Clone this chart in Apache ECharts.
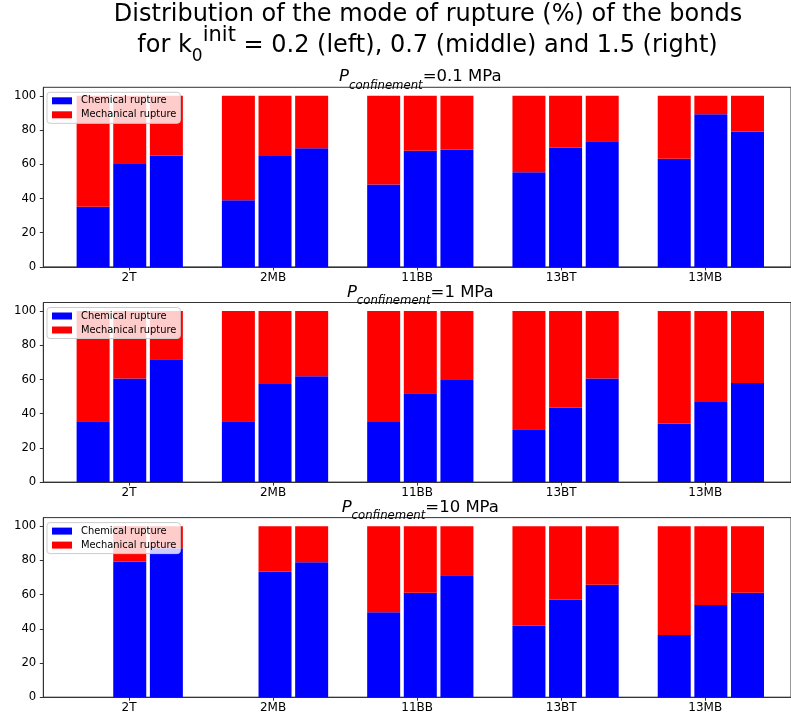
<!DOCTYPE html>
<html><head><meta charset="utf-8">
<script src="https://cdn.jsdelivr.net/npm/echarts@6/dist/echarts.min.js"></script>
<style>html,body{margin:0;padding:0;background:#fff}#c{width:791px;height:722px}</style>
</head><body><div id="c"></div>
<script>
const categories = ['2T', '2MB', '11BB', '13BT', '13MB'];
const panelPressures = ['0.1 MPa', '1 MPa', '10 MPa'];
const yTicks = [0, 20, 40, 60, 80, 100];
const seriesNames = ['Chemical rupture', 'Mechanical rupture'];

// P = 0.1 MPa : chemical / mechanical, for k0 = 0.2 (left), 0.7 (middle), 1.5 (right)
const chemP01Left  = [35.1, 38.9, 48.2, 55.4, 63.2];
const mechP01Left  = [64.9, 61.1, 51.8, 44.6, 36.8];
const chemP01Mid   = [60.1, 64.8, 67.9, 69.6, 89.2];
const mechP01Mid   = [39.9, 35.2, 32.1, 30.4, 10.8];
const chemP01Right = [65.2, 69.3, 68.5, 73.5, 79.2];
const mechP01Right = [34.8, 30.7, 31.5, 26.5, 20.8];

// P = 1 MPa
const chemP1Left  = [35.6, 35.6, 35.2, 30.9, 34.3];
const mechP1Left  = [64.4, 64.4, 64.8, 69.1, 65.7];
const chemP1Mid   = [60.5, 57.4, 52.0, 43.4, 46.9];
const mechP1Mid   = [39.5, 42.6, 48.0, 56.6, 53.1];
const chemP1Right = [71.8, 61.9, 59.7, 60.5, 58.0];
const mechP1Right = [28.2, 38.1, 40.3, 39.5, 42.0];

// P = 10 MPa (left bar missing for 2T and 2MB)
const chemP10Left  = [null, null, 49.7, 41.7, 36.4];
const mechP10Left  = [null, null, 50.3, 58.3, 63.6];
const chemP10Mid   = [79.3, 73.5, 61.0, 56.9, 53.9];
const mechP10Mid   = [20.7, 26.5, 39.0, 43.1, 46.1];
const chemP10Right = [87.1, 78.9, 71.3, 65.7, 61.0];
const mechP10Right = [12.9, 21.1, 28.7, 34.3, 39.0];

const panels = [
  [[chemP01Left, mechP01Left], [chemP01Mid, mechP01Mid], [chemP01Right, mechP01Right]],
  [[chemP1Left, mechP1Left], [chemP1Mid, mechP1Mid], [chemP1Right, mechP1Right]],
  [[chemP10Left, mechP10Left], [chemP10Mid, mechP10Mid], [chemP10Right, mechP10Right]]
];

const FONT = 'DejaVu Sans';
const gridTops = [87.3, 302.5, 517.6];
const gridH = 179.6;
const colors = ['#0000ff', '#ff0000'];
const catIdx = categories.map((c, i) => i);

// frame axis: value scale from -0.595 to 4.595 over 754 px => 145.3 px per category
const frameLeft = 43.3, frameWidth = 754, xMin = -0.595, xMax = 4.595;
const unit = frameWidth / (xMax - xMin);
const barsLeft = frameLeft + (-0.5 - xMin) * unit;
const barsWidth = categories.length * unit;

const grid = [], xAxis = [], yAxis = [], series = [], legend = [], graphic = [];

gridTops.forEach((top, p) => {
  // visible frame grid (index 2p) and bar grid (index 2p+1)
  grid.push({left: frameLeft, top: top, width: frameWidth, height: gridH, show: true,
    borderColor: '#333', borderWidth: 1, backgroundColor: 'transparent'});
  grid.push({left: barsLeft, top: top, width: barsWidth, height: gridH, show: false});
  xAxis.push({gridIndex: 2 * p, type: 'value', min: xMin, max: xMax,
    splitLine: {show: false},
    axisLine: {show: true, onZero: false, lineStyle: {color: '#333', width: 1}},
    axisTick: {show: true, customValues: catIdx, length: 3.5, lineStyle: {color: '#333'}},
    axisLabel: {customValues: catIdx, formatter: v => categories[Math.round(v)],
      fontSize: 12, fontFamily: FONT, color: '#000', margin: 5}});
  yAxis.push({gridIndex: 2 * p, type: 'value', min: 0, max: 105,
    splitLine: {show: false},
    axisLine: {show: true, onZero: false, lineStyle: {color: '#333', width: 1}},
    axisTick: {show: true, customValues: yTicks, length: 3.5, lineStyle: {color: '#333'}},
    axisLabel: {customValues: yTicks, fontSize: 11.7, fontFamily: FONT, color: '#000', margin: 7}});
  xAxis.push({gridIndex: 2 * p + 1, type: 'category', data: categories, show: false,
    boundaryGap: true});
  yAxis.push({gridIndex: 2 * p + 1, type: 'value', min: 0, max: 105, show: false,
    splitLine: {show: false}});
  ['L', 'M', 'R'].forEach((pos, k) => {
    panels[p][k].forEach((arr, s) => {
      series.push({type: 'bar', name: seriesNames[s], xAxisIndex: 2 * p + 1, yAxisIndex: 2 * p + 1,
        stack: 'p' + p + pos, barWidth: 33, barGap: '11%',
        itemStyle: {color: colors[s]},
        emphasis: {disabled: true},
        data: arr.map(v => v == null ? '-' : v)});
    });
  });
  legend.push({left: 47, top: top + 5, orient: 'vertical', icon: 'rect',
    itemWidth: 20, itemHeight: 7, itemGap: 3, padding: [3, 4, 3, 5],
    backgroundColor: 'rgba(255,255,255,0.8)', borderColor: '#cccccc', borderWidth: 1, borderRadius: 3,
    selectedMode: false,
    textStyle: {fontSize: 9.9, fontFamily: FONT, color: '#000', lineHeight: 11, padding: [0, 0, 0, 4]},
    data: seriesNames});
  graphic.push({type: 'text', x: 420.3, y: top - 10.2, z: 10,
    style: {text: '{it|P}{sub|confinement}{n|=' + panelPressures[p] + '}',
      align: 'center', verticalAlign: 'middle',
      rich: {
        it: {fontSize: 16.5, fontFamily: FONT, fontStyle: 'italic', lineHeight: 30, fill: '#000'},
        sub: {fontSize: 11.7, fontFamily: FONT, fontStyle: 'italic', lineHeight: 23, verticalAlign: 'bottom', fill: '#000'},
        n: {fontSize: 16.5, fontFamily: FONT, lineHeight: 30, fill: '#000'}
      }}});
});

graphic.push({type: 'text', x: 428, y: 15, z: 10,
  style: {text: 'Distribution of the mode of rupture (%) of the bonds', fontSize: 24, fontFamily: FONT,
    fill: '#000', align: 'center', verticalAlign: 'middle'}});
graphic.push({type: 'text', x: 427.5, y: 45.5, z: 10,
  style: {text: '{a|for k}{sub|0}{sup|init}{a| = 0.2 (left), 0.7 (middle) and 1.5 (right)}',
    align: 'center', verticalAlign: 'middle',
    rich: {
      a: {fontSize: 24, fontFamily: FONT, lineHeight: 40, fill: '#000'},
      sub: {fontSize: 17, fontFamily: FONT, lineHeight: 31, verticalAlign: 'bottom', fill: '#000'},
      sup: {fontSize: 21, fontFamily: FONT, lineHeight: 30, verticalAlign: 'top', fill: '#000'}
    }}});

const chart = echarts.init(document.getElementById('c'), null, {renderer: 'canvas'});
chart.setOption({animation: false, backgroundColor: '#fff', grid, xAxis, yAxis, series, legend, graphic});
</script>
</body></html>
